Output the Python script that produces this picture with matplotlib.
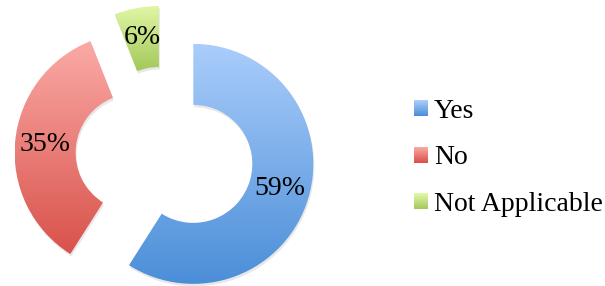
import numpy as np
import matplotlib
matplotlib.use('Agg')
import matplotlib.pyplot as plt
from matplotlib.colors import LinearSegmentedColormap
from matplotlib.legend_handler import HandlerBase
from matplotlib.patches import Rectangle, Wedge

labels = ['Yes', 'No', 'Not Applicable']
values = [59, 35, 6]
top_colors = ['#aacdfb', '#fbaaa6', '#e1f7a6']
bottom_colors = ['#4b8ed8', '#d9524b', '#a3c85a']

W, H = 605, 286
fig = plt.figure(figsize=(W / 100, H / 100), dpi=100)
ax = fig.add_axes([0, 0, 1, 1])
center = (164.5, H - 155.5)
R = 120
FONT = 'Liberation Serif'
FS = 20

wedges, texts, autotexts = ax.pie(
    values, radius=R, center=center, startangle=90, counterclock=False,
    explode=[30, 30, 30], autopct='%.0f%%', pctdistance=0.75,
    wedgeprops=dict(width=61, edgecolor='none'),
    textprops=dict(fontsize=FS, family=FONT, color='black'))

for w, tc, bc in zip(wedges, top_colors, bottom_colors):
    # soft shadow
    sh = Wedge((w.center[0] + 1, w.center[1] - 2.5), w.r, w.theta1, w.theta2,
               width=w.width, facecolor='#808080', alpha=0.18,
               edgecolor='none', zorder=0.5)
    ax.add_patch(sh)
    ext = w.get_path().get_extents()
    cmap = LinearSegmentedColormap.from_list('', [bc, tc])
    grad = np.linspace(0, 1, 256).reshape(-1, 1)
    im = ax.imshow(grad, cmap=cmap, extent=[ext.x0, ext.x1, ext.y0, ext.y1],
                   origin='lower', aspect='auto', zorder=1,
                   interpolation='bilinear')
    im.set_clip_path(w)
    w.set_facecolor('none')

for t in autotexts:
    t.set_zorder(5)

ax.set_xlim(0, W)
ax.set_ylim(0, H)
ax.axis('off')


class GradHandler(HandlerBase):
    def __init__(self, tc, bc):
        super().__init__()
        self.cmap = LinearSegmentedColormap.from_list('', [bc, tc])

    def create_artists(self, legend, orig_handle, xdescent, ydescent,
                       width, height, fontsize, trans):
        n = 24
        arts = []
        for i in range(n):
            r = Rectangle((-xdescent, -ydescent + i * height / n), width,
                          height / n * 1.1, facecolor=self.cmap(i / (n - 1)),
                          edgecolor='none', transform=trans)
            arts.append(r)
        return arts


handles = [Rectangle((0, 0), 1, 1) for _ in labels]
hmap = {h: GradHandler(tc, bc) for h, tc, bc in zip(handles, top_colors, bottom_colors)}
fig.legend(handles, labels, loc='center left',
           bbox_to_anchor=(414 / W, 1 - 158 / H), frameon=False,
           prop=dict(family=FONT, size=FS), handlelength=0.5,
           handleheight=0.5, handletextpad=0.22, labelspacing=0.78,
           borderpad=0, borderaxespad=0, handler_map=hmap)

fig.savefig('out.png', dpi=100)
